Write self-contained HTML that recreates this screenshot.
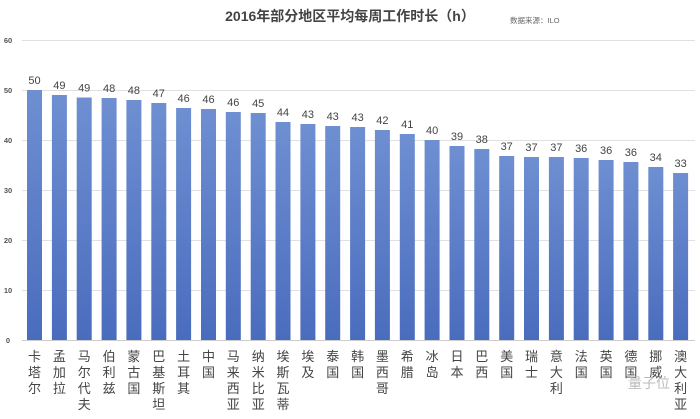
<!DOCTYPE html>
<html><head><meta charset="utf-8"><style>
body{margin:0;width:700px;height:414px;background:#fff;overflow:hidden}
</style></head><body>
<svg width="700" height="414" xmlns="http://www.w3.org/2000/svg" font-family="Liberation Sans, Noto Sans CJK SC, sans-serif">
<defs><linearGradient id="g" x1="0" y1="0" x2="0" y2="1"><stop offset="0" stop-color="#6f8fd2"/><stop offset="1" stop-color="#4a6cbd"/></linearGradient></defs>
<text x="350" y="21" text-anchor="middle" font-size="14" font-weight="bold" fill="#444">2016年部分地区平均每周工作时长（h）</text>
<text x="510" y="23" font-size="7.5" fill="#666">数据来源：ILO</text>
<g stroke="#e0e0e0" stroke-width="1">
<line x1="22" x2="695" y1="40.5" y2="40.5"/><line x1="22" x2="695" y1="90.5" y2="90.5"/><line x1="22" x2="695" y1="140.5" y2="140.5"/><line x1="22" x2="695" y1="190.5" y2="190.5"/><line x1="22" x2="695" y1="240.5" y2="240.5"/><line x1="22" x2="695" y1="290.5" y2="290.5"/><line x1="22" x2="695" y1="340.5" y2="340.5" stroke="#ccc"/>
</g>
<g font-size="7.5" font-weight="bold" fill="#555" text-anchor="middle">
<text x="8" y="43">60</text><text x="8" y="93">50</text><text x="8" y="143">40</text><text x="8" y="193">30</text><text x="8" y="243">20</text><text x="8" y="293">10</text><text x="8" y="343">0</text>
</g>
<g fill="url(#g)">
<rect x="27" y="90" width="15" height="250"/>
<rect x="51.9" y="95" width="15" height="245"/>
<rect x="76.7" y="97.5" width="15" height="242.5"/>
<rect x="101.6" y="98" width="15" height="242"/>
<rect x="126.4" y="100" width="15" height="240"/>
<rect x="151.3" y="103" width="15" height="237"/>
<rect x="176.1" y="108" width="15" height="232"/>
<rect x="201" y="109" width="15" height="231"/>
<rect x="225.8" y="112" width="15" height="228"/>
<rect x="250.7" y="113" width="15" height="227"/>
<rect x="275.5" y="122" width="15" height="218"/>
<rect x="300.4" y="124" width="15" height="216"/>
<rect x="325.2" y="126" width="15" height="214"/>
<rect x="350.1" y="127" width="15" height="213"/>
<rect x="374.9" y="130" width="15" height="210"/>
<rect x="399.8" y="134" width="15" height="206"/>
<rect x="424.6" y="140" width="15" height="200"/>
<rect x="449.5" y="146" width="15" height="194"/>
<rect x="474.3" y="149" width="15" height="191"/>
<rect x="499.2" y="156" width="15" height="184"/>
<rect x="524" y="157" width="15" height="183"/>
<rect x="548.9" y="157" width="15" height="183"/>
<rect x="573.7" y="158" width="15" height="182"/>
<rect x="598.6" y="160" width="15" height="180"/>
<rect x="623.4" y="162" width="15" height="178"/>
<rect x="648.3" y="167" width="15" height="173"/>
<rect x="673.1" y="173" width="15" height="167"/>
</g>
<g font-size="11" fill="#444" text-anchor="middle">
<text x="34.5" y="84">50</text><text x="59.4" y="89">49</text><text x="84.2" y="91.5">49</text><text x="109.1" y="92">48</text><text x="133.9" y="94">48</text><text x="158.8" y="97">47</text><text x="183.6" y="102">46</text><text x="208.5" y="103">46</text><text x="233.3" y="106">46</text><text x="258.2" y="107">45</text><text x="283" y="116">44</text><text x="307.9" y="118">43</text><text x="332.7" y="120">43</text><text x="357.6" y="121">43</text><text x="382.4" y="124">42</text><text x="407.3" y="128">41</text><text x="432.1" y="134">40</text><text x="457" y="140">39</text><text x="481.8" y="143">38</text><text x="506.7" y="150">37</text><text x="531.5" y="151">37</text><text x="556.4" y="151">37</text><text x="581.2" y="152">36</text><text x="606.1" y="154">36</text><text x="630.9" y="156">36</text><text x="655.8" y="161">34</text><text x="680.6" y="167">33</text>
</g>
<g font-size="13" fill="#444" text-anchor="middle">
<text y="361"><tspan x="34.5">卡</tspan><tspan x="34.5" dy="16">塔</tspan><tspan x="34.5" dy="16">尔</tspan></text>
<text y="361"><tspan x="59.4">孟</tspan><tspan x="59.4" dy="16">加</tspan><tspan x="59.4" dy="16">拉</tspan></text>
<text y="361"><tspan x="84.2">马</tspan><tspan x="84.2" dy="16">尔</tspan><tspan x="84.2" dy="16">代</tspan><tspan x="84.2" dy="16">夫</tspan></text>
<text y="361"><tspan x="109.1">伯</tspan><tspan x="109.1" dy="16">利</tspan><tspan x="109.1" dy="16">兹</tspan></text>
<text y="361"><tspan x="133.9">蒙</tspan><tspan x="133.9" dy="16">古</tspan><tspan x="133.9" dy="16">国</tspan></text>
<text y="361"><tspan x="158.8">巴</tspan><tspan x="158.8" dy="16">基</tspan><tspan x="158.8" dy="16">斯</tspan><tspan x="158.8" dy="16">坦</tspan></text>
<text y="361"><tspan x="183.6">土</tspan><tspan x="183.6" dy="16">耳</tspan><tspan x="183.6" dy="16">其</tspan></text>
<text y="361"><tspan x="208.5">中</tspan><tspan x="208.5" dy="16">国</tspan></text>
<text y="361"><tspan x="233.3">马</tspan><tspan x="233.3" dy="16">来</tspan><tspan x="233.3" dy="16">西</tspan><tspan x="233.3" dy="16">亚</tspan></text>
<text y="361"><tspan x="258.2">纳</tspan><tspan x="258.2" dy="16">米</tspan><tspan x="258.2" dy="16">比</tspan><tspan x="258.2" dy="16">亚</tspan></text>
<text y="361"><tspan x="283">埃</tspan><tspan x="283" dy="16">斯</tspan><tspan x="283" dy="16">瓦</tspan><tspan x="283" dy="16">蒂</tspan><tspan x="283" dy="16">尼</tspan></text>
<text y="361"><tspan x="307.9">埃</tspan><tspan x="307.9" dy="16">及</tspan></text>
<text y="361"><tspan x="332.7">泰</tspan><tspan x="332.7" dy="16">国</tspan></text>
<text y="361"><tspan x="357.6">韩</tspan><tspan x="357.6" dy="16">国</tspan></text>
<text y="361"><tspan x="382.4">墨</tspan><tspan x="382.4" dy="16">西</tspan><tspan x="382.4" dy="16">哥</tspan></text>
<text y="361"><tspan x="407.3">希</tspan><tspan x="407.3" dy="16">腊</tspan></text>
<text y="361"><tspan x="432.1">冰</tspan><tspan x="432.1" dy="16">岛</tspan></text>
<text y="361"><tspan x="457">日</tspan><tspan x="457" dy="16">本</tspan></text>
<text y="361"><tspan x="481.8">巴</tspan><tspan x="481.8" dy="16">西</tspan></text>
<text y="361"><tspan x="506.7">美</tspan><tspan x="506.7" dy="16">国</tspan></text>
<text y="361"><tspan x="531.5">瑞</tspan><tspan x="531.5" dy="16">士</tspan></text>
<text y="361"><tspan x="556.4">意</tspan><tspan x="556.4" dy="16">大</tspan><tspan x="556.4" dy="16">利</tspan></text>
<text y="361"><tspan x="581.2">法</tspan><tspan x="581.2" dy="16">国</tspan></text>
<text y="361"><tspan x="606.1">英</tspan><tspan x="606.1" dy="16">国</tspan></text>
<text y="361"><tspan x="630.9">德</tspan><tspan x="630.9" dy="16">国</tspan></text>
<text y="361"><tspan x="655.8">挪</tspan><tspan x="655.8" dy="16">威</tspan></text>
<text y="361"><tspan x="680.6">澳</tspan><tspan x="680.6" dy="16">大</tspan><tspan x="680.6" dy="16">利</tspan><tspan x="680.6" dy="16">亚</tspan></text>
</g>
<text x="628" y="388" font-size="14" fill="#bbb">量子位</text>
</svg>
</body></html>
